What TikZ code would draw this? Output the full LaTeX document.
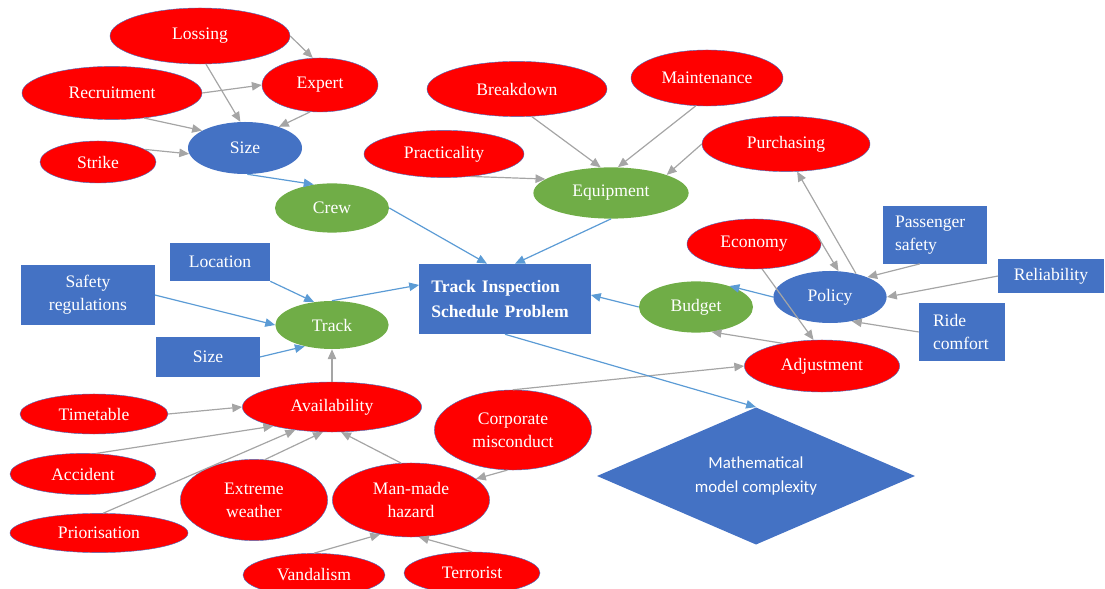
\documentclass[tikz,border=0pt]{standalone}
\usepackage{fontspec}
\setmainfont{Liberation Serif}
\newfontfamily\calibri{Carlito}
\usetikzlibrary{positioning, arrows.meta, shapes.geometric}

\definecolor{hazardred}{HTML}{FF0000}
\definecolor{factorblue}{HTML}{4472C4}
\definecolor{hubgreen}{HTML}{70AD47}
\definecolor{linkblue}{HTML}{5B9BD5}
\definecolor{linkgray}{HTML}{A5A5A5}

\begin{document}
\begin{tikzpicture}[x=0.025cm, y=-0.025cm, >={Triangle[length=7pt,width=6pt]}, font=\fontsize{12.5}{16.5}\selectfont]

\tikzset{
  cause/.style={ellipse, fill=hazardred, draw=factorblue, line width=0.3pt, text=white, inner sep=0pt, align=center},
  hub/.style={ellipse, fill=hubgreen, text=white, inner sep=0pt},
  core/.style={ellipse, fill=factorblue, text=white, inner sep=0pt},
  factor/.style={rectangle, fill=factorblue, text=white, inner sep=0pt, align=center},
  link/.style={->, linkgray, line width=0.85pt},
  flow/.style={->, linkblue, line width=0.85pt},
}

\useasboundingbox (0,0) rectangle (1105,589);

% crew
\node[cause, minimum width=4.5cm, minimum height=1.4cm] (losing) at (200,36) {Lossing};
\node[cause, minimum width=4.5cm, minimum height=1.33cm] (recruit) at (112,93) {Recruitment};
\node[cause, minimum width=2.9cm, minimum height=1.35cm] (expert) at (320,85) {Expert};
\node[cause, minimum width=2.9cm, minimum height=1.05cm] (strike) at (98,162) {Strike};
\node[core, minimum width=2.85cm, minimum height=1.3cm] (size) at (245,148) {Size};
\node[hub, minimum width=2.85cm, minimum height=1.23cm] (crew) at (332,208) {Crew};

% equipment
\node[cause, minimum width=4.5cm, minimum height=1.38cm] (breakdown) at (517,89) {Breakdown};
\node[cause, minimum width=3.8cm, minimum height=1.4cm] (maint) at (707,78) {Maintenance};
\node[cause, minimum width=4.0cm, minimum height=1.18cm] (practical) at (444,154) {Practicality};
\node[cause, minimum width=4.2cm, minimum height=1.38cm] (purchase) at (786,144) {Purchasing};
\node[hub, minimum width=3.88cm, minimum height=1.28cm] (equip) at (611,193) {Equipment};

% budget
\node[cause, minimum width=3.35cm, minimum height=1.25cm] (economy) at (754,244) {Economy};
\node[core, minimum width=2.83cm, minimum height=1.3cm] (policy) at (830,297) {Policy};
\node[hub, minimum width=2.85cm, minimum height=1.28cm] (budget) at (696,307) {Budget};
\node[cause, minimum width=3.88cm, minimum height=1.3cm] (adjust) at (822,366) {Adjustment};
\node[factor, text width=2cm, align=left, inner xsep=0.3cm, minimum height=1.43cm] (passenger) at (935,235) {Passenger\\safety};
\node[factor, minimum width=2.63cm, minimum height=0.85cm] (reliab) at (1051,276) {Reliability};
\node[factor, text width=1.45cm, align=left, inner xsep=0.35cm, minimum height=1.45cm] (ride) at (962,332) {Ride\\comfort};

% problem
\node[factor, text width=3.68cm, align=left, inner xsep=0.3cm, minimum height=1.75cm, font=\fontsize{12.5}{18}\selectfont\bfseries] (tis) at (505,299) {Track Inspection\\Schedule Problem};
\node[diamond, fill=factorblue, text=white, inner sep=0pt, aspect=2.3, minimum width=7.95cm, minimum height=3.43cm, align=center, font=\calibri\fontsize{12}{17}\selectfont] (math) at (756,476) {Mathematical\\model complexity};

% track
\node[factor, minimum width=2.5cm, minimum height=0.95cm] (location) at (220,262) {Location};
\node[factor, minimum width=3.33cm, minimum height=1.48cm] (safety) at (88,295) {Safety\\regulations};
\node[factor, minimum width=2.58cm, minimum height=1.0cm] (sizebox) at (208,357) {Size};
\node[hub, minimum width=2.83cm, minimum height=1.2cm] (track) at (332,325) {Track};

% availability
\node[cause, minimum width=4.48cm, minimum height=1.25cm] (avail) at (332,407) {Availability};
\node[cause, minimum width=3.7cm, minimum height=1.0cm] (timetable) at (94,414) {Timetable};
\node[cause, minimum width=3.65cm, minimum height=1.03cm] (accident) at (83,474) {Accident};
\node[cause, minimum width=4.45cm, minimum height=0.98cm] (prior) at (99,533) {Priorisation};
\node[cause, minimum width=3.68cm, minimum height=2.03cm] (extreme) at (254,500) {Extreme\\weather};
\node[cause, minimum width=3.93cm, minimum height=1.85cm] (manmade) at (411,500) {Man-made\\hazard};
\node[cause, minimum width=3.93cm, minimum height=2.0cm] (corporate) at (513,430) {Corporate\\misconduct};
\node[cause, minimum width=3.55cm, minimum height=1.08cm] (vandal) at (314,575) {Vandalism};
\node[cause, minimum width=3.4cm, minimum height=1.05cm] (terror) at (472,573) {Terrorist};

% gray influences
\draw[link] (losing.east) -- (expert.105);
\draw[link] (losing.282) -- (size.100);
\draw[link] (recruit.east) -- (expert.west);
\draw[link] (recruit.-38) -- (size.158);
\draw[link] (expert.250) -- (size.32);
\draw[link] (strike.15) -- (size.186);
\draw[link] (breakdown.-62) -- (equip.112);
\draw[link] (maint.248) -- (equip.75);
\draw[link] (practical.-40) -- (equip.168);
\draw[link] (purchase.west) -- (equip.18);
\draw[link] (economy.8) -- (policy.72);
\draw[link] (economy.-72) -- (adjust.108);
\draw[link] (policy.42) -- (purchase.-68);
\draw[link] ([xshift=-0.38cm]passenger.south) -- (policy.28);
\draw[link] (reliab.west) -- (policy.east);
\draw[link] (ride.west) -- (policy.-48);
\draw[link] (adjust.150) -- (budget.-58);
\draw[link] (corporate.north) -- (adjust.west);
\draw[link] (corporate.262) -- (manmade.18);
\draw[link] (avail.north) -- (track.south);
\draw[link] (timetable.east) -- (avail.west);
\draw[link] (accident.58) -- (avail.198);
\draw[link] (prior.78) -- (avail.212);
\draw[link] (extreme.75) -- (avail.250);
\draw[link] (manmade.105) -- (avail.290);
\draw[link] (vandal.north) -- (manmade.228);
\draw[link] (terror.north) -- (manmade.282);

% blue flows into the problem
\draw[flow] (size.275) -- (crew.128);
\draw[flow] (crew.east) -- ([xshift=-0.45cm]tis.north);
\draw[flow] (equip.south) -- ([xshift=0.25cm]tis.north);
\draw[flow] (policy.west) -- (budget.32);
\draw[flow] (budget.west) -- ([yshift=0.1cm]tis.east);
\draw[flow] (location.south east) -- (track.128);
\draw[flow] (safety.east) -- (track.west);
\draw[flow] (sizebox.east) -- (track.218);
\draw[flow] (track.north) -- ([yshift=0.35cm]tis.west);
\draw[flow] (tis.south) -- (math.north);

\end{tikzpicture}
\end{document}
